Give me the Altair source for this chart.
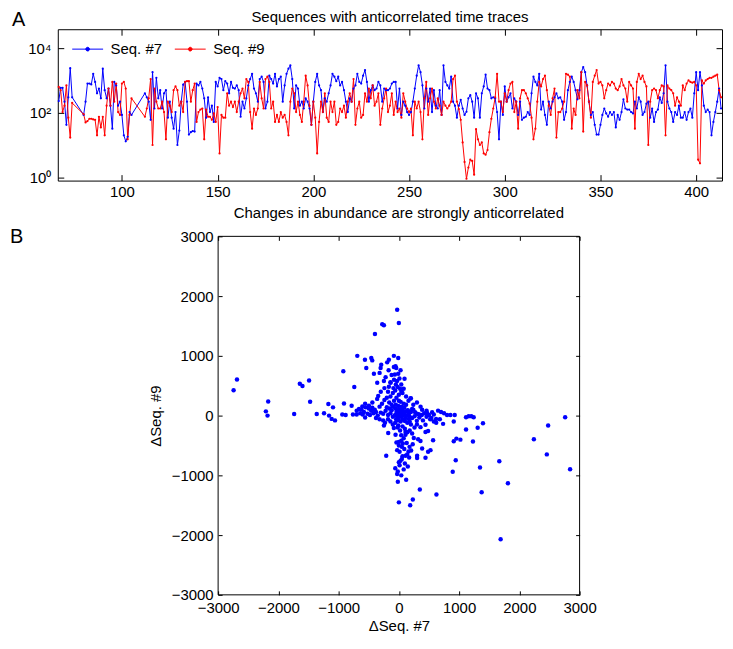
import altair as alt
import pandas as pd

# ---------------- Panel A: time traces ----------------
days = list(range(67, 75)) + list(range(80, 106)) + list(range(112, 414))

seq7 = [
    230, 590, 590, 220, 42, 300, 2400, 300,
    85, 220, 800, 800, 750, 1600, 900, 400, 560, 280,
    2300, 500, 280, 560, 165, 32, 900, 700, 165, 220,
    85, 20, 13, 18, 105, 85,
    400, 300, 220, 60, 1800, 135, 1200, 280,
    500, 135, 400, 500, 70, 220, 70, 32, 105, 10,
    28, 220, 740, 900, 220, 21, 25, 27, 26, 800,
    700, 900, 560, 280, 70, 300, 105, 165, 52, 900,
    650, 1200, 1100, 500, 950, 800, 400, 900, 590, 560,
    700, 500, 75, 220, 135, 280, 700, 1100, 1600, 560,
    400, 220, 1100, 1300, 900, 135, 220, 1400, 1100, 800,
    1600, 650, 1100, 1300, 220, 700, 1600, 2300, 2900, 1100,
    135, 700, 560, 165, 220, 135, 280, 220, 135, 42,
    220, 900, 1600, 700, 500, 105, 280, 220, 400, 700,
    1600, 1300, 950, 1300, 700, 900, 500, 220, 105, 280,
    220, 560, 700, 1600, 900, 800, 1400, 2100, 900, 220,
    500, 700, 500, 560, 900, 700, 220, 560, 500, 500,
    560, 800, 900, 900, 135, 560, 85, 220, 165, 105,
    85, 105, 220, 560, 1400, 2900, 1800, 700, 135, 560,
    220, 560, 105, 500, 165, 135, 500, 85, 2900, 900,
    700, 560, 1300, 220, 165, 70, 165, 250, 135, 85,
    107, 280, 350, 220, 70, 400, 280, 70, 400, 650,
    1500, 560, 500, 280, 300, 280, 105, 15, 220, 85,
    650, 220, 300, 400, 135, 280, 220, 85, 220, 60,
    70, 75, 105, 85, 400, 1300, 900, 700, 1600, 125,
    220, 85, 42, 220, 135, 220, 300, 400, 280, 300,
    220, 60, 105, 500, 900, 1300, 900, 500, 260, 500,
    1800, 2600, 1800, 700, 220, 85, 105, 42, 21, 21,
    42, 85, 135, 95, 75, 105, 85, 105, 35, 85,
    60, 105, 260, 135, 125, 125, 105, 95, 220, 135,
    300, 220, 85, 105, 190, 220, 70, 135, 52, 105,
    125, 300, 200, 400, 2900, 220, 135, 105, 52, 105,
    85, 165, 70, 70, 105, 60, 105, 135, 70, 400,
    1800, 500, 1800, 700, 165, 105, 125, 105, 20, 52,
    105, 220, 560, 135,
]

seq9 = [
    630, 500, 105, 165, 700, 70, 17, 200,
    90, 50, 55, 65, 65, 62, 60, 20, 75, 35,
    75, 20, 165, 560, 165, 900, 220, 800, 105, 85,
    800, 900, 560, 15, 85, 280,
    75, 135, 280, 1100, 10, 560, 220, 135,
    135, 220, 105, 15, 220, 165, 105, 500, 650, 500,
    165, 220, 105, 900, 950, 950, 220, 500, 800, 52,
    105, 125, 135, 15, 125, 75, 75, 60, 95, 52,
    150, 5.5, 85, 70, 70, 400, 165, 220, 150, 220,
    105, 220, 400, 560, 280, 1100, 900, 105, 32, 135,
    85, 135, 900, 280, 135, 1100, 1300, 900, 135, 220,
    52, 85, 52, 105, 70, 85, 52, 20, 220, 560,
    400, 105, 220, 85, 52, 220, 1400, 700, 165, 42,
    220, 70, 5.5, 52, 220, 105, 400, 70, 52, 220,
    105, 220, 42, 52, 135, 105, 165, 70, 220, 400,
    220, 1100, 42, 135, 220, 70, 85, 400, 220, 560,
    280, 700, 165, 220, 400, 42, 135, 280, 560, 105,
    165, 400, 85, 220, 105, 135, 70, 400, 220, 135,
    105, 135, 20, 220, 135, 220, 105, 15, 280, 900,
    85, 280, 560, 220, 135, 280, 165, 85, 220, 165,
    135, 165, 220, 1100, 1400, 220, 130, 60, 12, 3,
    0.9, 2, 3.5, 3.2, 1.2, 31, 15, 10, 12, 5.5,
    5, 7, 25, 65, 135, 300, 1600, 220, 220, 105,
    400, 220, 500, 800, 900, 105, 220, 32, 280, 500,
    500, 400, 280, 190, 70, 15, 32, 220, 900, 650,
    1100, 1400, 500, 165, 85, 280, 560, 17, 105, 105,
    135, 220, 1600, 1500, 1300, 32, 135, 85, 500, 280,
    1800, 26, 900, 700, 220, 70, 900, 1400, 2100, 800,
    900, 700, 280, 500, 800, 700, 900, 800, 560, 500,
    650, 1100, 700, 560, 220, 900, 700, 560, 32, 900,
    1600, 1100, 1400, 900, 650, 10, 220, 500, 560, 500,
    280, 500, 700, 650, 20, 700, 560, 500, 400, 165,
    300, 220, 165, 700, 500, 800, 1000, 900, 850, 900,
    700, 3.5, 2.7, 1000, 800, 1000, 1100, 1200, 1200, 1300,
    1400, 1500, 500, 300,
]

series_names = ["Seq. #7", "Seq. #9"]
x_ticks_a = [100, 150, 200, 250, 300, 350, 400]
y_ticks_a = [1, 100, 10000]

# ---------------- Panel B: changes (dSeq7, dSeq9) ----------------
scatter_pts = [
    (-2743, 424), (-2687, 605), (-2207, 71), (-2180, 0), (-2169, 236), (-1738, 28), (-1644, 533), (-1600, 495),
    (-1490, 589), (-1473, 231), (-1363, 28), (-1242, 38), (-1170, 193), (-1159, 0), (-1093, 138), (-1115, -55),
    (-1060, -80), (-939, 17), (-922, 743), (-911, 204), (-883, 11), (-784, 165), (-762, 17), (-740, 479),
    (-690, 1000), (-662, 110), (-607, 154), (-563, 935), (-541, 798), (-552, 138), (-497, 165), (-458, 963),
    (-442, 924), (-414, 699), (-397, 1365), (-359, 550), (-343, 330), (-320, 715), (-293, 853), (-276, 1530),
    (-248, 1513), (-220, 644), (-194, 891), (-166, 935), (-137, 550), (-83, 1000), (-55, 825), (-28, 1771),
    (0, 1551), (-11, 963), (28, 759), (94, 616), (193, 286), (-303, 798), (-83, 814), (-44, 798),
    (-66, 688), (-248, 578), (-166, 484),
    (651, 83), (800, 11), (856, 11), (927, 11), (911, -99), (734, -138), (1115, -28), (1159, -11),
    (1203, -11), (1242, -28), (1396, -127), (1308, -204), (1115, -231), (2760, -28), (2478, -165), (2241, -396),
    (2456, -649), (2842, -897), (1667, -765), (1810, -1133), (1689, -2068), (1347, -869), (1374, -1282), (894, -941),
    (944, -748), (911, -429), (955, -385), (1021, -402), (1230, -435), (568, -413), (442, -275), (485, -259),
    (359, -424), (320, -396), (248, -374), (386, -550), (525, -578), (485, -605), (442, -704), (303, -671),
    (303, -710), (177, -523), (204, -583), (138, -649), (110, -671), (149, -853), (121, -1073), (348, -1238),
    (624, -1320), (232, -1403), (188, -1502), (0, -1452), (-17, -1106), (-28, -979), (-17, -935), (12, -830),
    (28, -754), (50, -726), (-28, -578), (12, -605), (-210, -671), (0, -440), (50, -523), (66, -468),
    (39, -330), (110, -275), (110, -319), (-55, -319), (-177, -292), (-83, -209), (-248, -165), (-11, -165),
    (359, -193), (442, -154), (199, 292), (220, 110), (386, 99), (469, 44), (552, 55), (618, -55),
    (298, -88), (331, 22), (270, 55), (138, 83), (166, -55),
    (-100, 150), (-60, 120), (-20, 80), (20, 60), (60, 40), (100, 20), (140, 0), (180, -20),
    (220, -40), (260, -10), (300, 30), (340, -30), (380, 10), (420, 40), (460, -20), (500, 10),
    (540, -40), (580, 20), (-300, 50), (-260, 30), (-220, 80), (-180, 10), (-140, 40), (-100, -20),
    (-60, 10), (-20, -40), (20, 0), (60, -60), (100, -90), (140, -120), (180, -100), (-30, 20),
    (10, 30), (50, 100), (90, 130), (130, 70), (170, 40), (-400, 100), (-350, 0), (-320, 150),
    (-280, 200), (-240, 260), (-200, 300), (-160, 220), (-120, 180), (-80, 250), (-40, 300), (0, 350),
    (40, 400), (80, 200), (120, 180), (-60, 420), (-20, 480), (20, 450), (60, 380), (-100, 380),
    (-140, 320), (-180, 400), (-90, 460), (-50, 520), (-30, 580), (10, 620), (-120, 680), (-170, 760),
    (-10, 700), (0, 250), (30, 230), (-200, 140), (-420, 40), (-460, 80), (-520, 30), (-580, 60),
    (-640, 40), (-700, 20), (-380, -40), (-320, -60), (-260, -80), (-230, -120), (-180, -60), (-140, -100),
    (-100, -150), (-60, -120), (-20, -200), (20, -250), (60, -180), (100, -220), (140, -280), (180, -250),
    (220, -300), (260, -200), (300, -150), (200, -150), (80, -380), (40, -420), (0, -500), (-40, -450),
    (90, -560), (130, -460), (160, -600), (230, -480), (60, -680), (0, -780), (100, -800), (170, -700),
    (-60, -880), (40, -1000), (80, -900), (620, -120), (680, -60), (750, 40), (700, 60), (580, -100),
    (520, -60), (460, 80), (400, -80), (360, 150), (300, 220), (240, 180), (160, 250), (120, 320),
    (80, 450), (40, 520), (-80, 600), (-140, 560), (-240, 460), (-300, 400), (-360, 280), (-440, 220),
    (-500, 120), (-560, 200), (-620, 100), (-700, 80),
    (-40, 60), (0, 100), (40, 150), (-70, 0), (70, 10), (-10, -80), (30, -100), (-120, 90),
    (150, 90), (200, 60), (-160, 120), (240, 100), (-50, 180), (-10, 160), (10, -20), (-5, 40),
    (45, -20), (85, 60), (110, -40), (-45, -60), (-600, 20), (-560, -30), (-480, 10), (-440, 130),
    (-380, 60),
]
ticks_b = [-3000, -2000, -1000, 0, 1000, 2000, 3000]

TITLE_A = "Sequences with anticorrelated time traces"
TITLE_B = "Changes in abundance are strongly anticorrelated"

FONT = "Liberation Sans"
BLUE = "#0000ff"
RED = "#ff0000"

ts = pd.DataFrame({
    "day": days + days,
    "count": seq7 + seq9,
    "series": [series_names[0]] * len(days) + [series_names[1]] * len(days),
})
sc = pd.DataFrame({"d7": [p[0] for p in scatter_pts], "d9": [p[1] for p in scatter_pts]})
frame_b = pd.DataFrame({"x1": [ticks_b[0]], "x2": [ticks_b[-1]], "y1": [ticks_b[0]], "y2": [ticks_b[-1]]})

W_A, H_A = 667, 152
H_B = 360
B_LEFT, B_RIGHT = 161, 524      # scatter plot area inside the second (full-width) cell
TK_A, TK_B = 6, 4


def ax(orient, values, tick, labels=True, offset=0, **kw):
    return alt.Axis(orient=orient, values=values, tickSize=tick, offset=offset - tick, domain=False,
                    grid=False, labels=labels, ticks=True, tickColor="black", tickWidth=1,
                    labelFlush=False, labelColor="black", labelFontSize=15, labelFont=FONT, **kw)


xs_a = alt.Scale(domain=[66.5, 413.5], nice=False, zero=False)
ys_a = alt.Scale(type="log", domain=[0.79, 38500], nice=False)

legend_sym = "M-1,0H1M-0.12,0A0.12,0.12,0,1,1,0.12,0A0.12,0.12,0,1,1,-0.12,0"

lines = alt.Chart(ts).mark_line(strokeWidth=1, point=alt.OverlayMarkDef(filled=True, size=5, opacity=1)).encode(
    x=alt.X("day:Q", scale=xs_a, axis=ax("bottom", x_ticks_a, TK_A, format="d", labelPadding=4, title=None)),
    y=alt.Y("count:Q", scale=ys_a, axis=ax("left", y_ticks_a, TK_A, labelPadding=7, title=None,
             labelExpr="datum.value == 1 ? '10⁰' : datum.value == 100 ? '10²' : '10⁴'")),
    color=alt.Color("series:N", scale=alt.Scale(domain=series_names, range=[BLUE, RED]),
                    legend=alt.Legend(orient="none", legendX=14, legendY=4, direction="horizontal",
                                      title=None, symbolType=legend_sym, symbolSize=961,
                                      symbolStrokeWidth=1, labelFontSize=15, labelFont=FONT,
                                      labelColor="black", columnPadding=10, labelOffset=7, padding=0)),
)
mirror_a = alt.Chart(ts).mark_point(opacity=0).encode(
    x=alt.X("day:Q", scale=xs_a, axis=ax("top", x_ticks_a, TK_A, labels=False, title=None)),
    y=alt.Y("count:Q", scale=ys_a, axis=ax("right", y_ticks_a, TK_A, labels=False, title=None)),
)
lab_a = alt.Chart(pd.DataFrame({"t": ["A"]})).mark_text(
    fontSize=20, align="left", baseline="top", font=FONT, color="black"
).encode(text="t:N", x=alt.value(-46), y=alt.value(-19))
ttl_a = alt.Chart(pd.DataFrame({"t": [TITLE_A]})).mark_text(
    fontSize=15, align="center", baseline="top", font=FONT, color="black"
).encode(text="t:N", x=alt.value(W_A / 2), y=alt.value(-19))

top = alt.layer(lines, mirror_a, lab_a, ttl_a).resolve_axis(x="independent", y="independent").properties(
    width=W_A, height=H_A)

xs_b = alt.Scale(domain=[ticks_b[0], ticks_b[-1]], range=[B_LEFT, B_RIGHT], nice=False, zero=False)
ys_b = alt.Scale(domain=[ticks_b[0], ticks_b[-1]], nice=False, zero=False)

frame = alt.Chart(frame_b).mark_rect(fillOpacity=0, stroke="black", strokeWidth=1).encode(
    x=alt.X("x1:Q", scale=xs_b, axis=None), x2="x2:Q",
    y=alt.Y("y1:Q", scale=ys_b, axis=None), y2="y2:Q",
)
pts = alt.Chart(sc).mark_circle(size=20, color=BLUE, opacity=1).encode(
    x=alt.X("d7:Q", scale=xs_b, axis=ax("bottom", ticks_b, TK_B, format="d", labelPadding=6,
                                       title="ΔSeq. #7", titlePadding=3, titleFontSize=15,
                                       titleFontWeight="normal", titleFont=FONT, titleColor="black")),
    y=alt.Y("d9:Q", scale=ys_b, axis=ax("left", ticks_b, TK_B, offset=-B_LEFT, format="d", labelPadding=5,
                                       title="ΔSeq. #9", titlePadding=8, titleFontSize=15,
                                       titleFontWeight="normal", titleFont=FONT, titleColor="black")),
)
mirror_b = alt.Chart(sc).mark_point(opacity=0).encode(
    x=alt.X("d7:Q", scale=xs_b, axis=ax("top", ticks_b, TK_B, labels=False, title=None)),
    y=alt.Y("d9:Q", scale=ys_b, axis=ax("right", ticks_b, TK_B, offset=-(W_A - B_RIGHT), labels=False, title=None)),
)
lab_b = alt.Chart(pd.DataFrame({"t": ["B"]})).mark_text(
    fontSize=20, align="left", baseline="alphabetic", font=FONT, color="black"
).encode(text="t:N", x=alt.value(-48), y=alt.value(7))
ttl_b = alt.Chart(pd.DataFrame({"t": [TITLE_B]})).mark_text(
    fontSize=15, align="center", baseline="top", font=FONT, color="black"
).encode(text="t:N", x=alt.value((B_LEFT + B_RIGHT) / 2), y=alt.value(-30))

bottom = alt.layer(frame, pts, mirror_b, lab_b, ttl_b).resolve_axis(x="independent", y="independent").properties(
    width=W_A, height=H_B, view=alt.ViewBackground(strokeOpacity=0))

chart = alt.vconcat(top, bottom, spacing=6).properties(
    padding={"left": 2, "top": 0, "right": 0, "bottom": 0}
).configure(font=FONT).configure_view(stroke="black", strokeWidth=1)

chart.save("out.html", embed_options={"renderer": "svg", "actions": False})
